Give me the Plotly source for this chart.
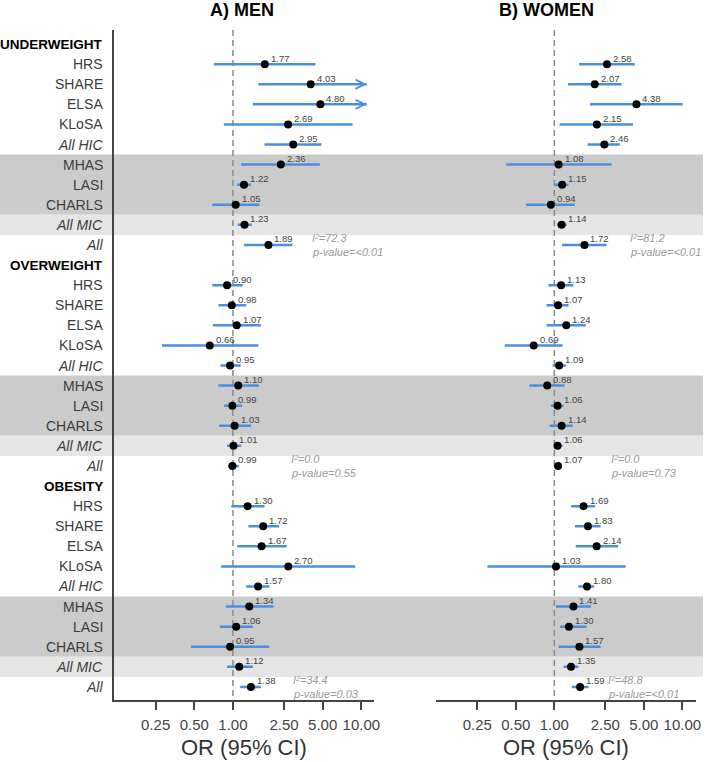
import math
import plotly.graph_objects as go

# ---------------- data ----------------
groups = ["UNDERWEIGHT", "OVERWEIGHT", "OBESITY"]
studies = ["HRS", "SHARE", "ELSA", "KLoSA", "All HIC", "MHAS", "LASI", "CHARLS", "All MIC", "All"]
italic_studies = ["All HIC", "All MIC", "All"]

# Men
men_or_uw = [1.77, 4.03, 4.80, 2.69, 2.95, 2.36, 1.22, 1.05, 1.23, 1.89]
men_lo_uw = [0.71, 1.58, 1.43, 0.85, 1.76, 1.16, 1.08, 0.69, 1.09, 1.22]
men_hi_uw = [4.39, 11.0, 11.0, 8.54, 4.89, 4.75, 1.38, 1.61, 1.40, 2.90]
men_or_ow = [0.90, 0.98, 1.07, 0.66, 0.95, 1.10, 0.99, 1.03, 1.01, 0.99]
men_lo_ow = [0.69, 0.77, 0.70, 0.28, 0.80, 0.77, 0.85, 0.78, 0.90, 0.92]
men_hi_ow = [1.19, 1.27, 1.65, 1.58, 1.15, 1.59, 1.18, 1.38, 1.16, 1.11]
men_or_ob = [1.30, 1.72, 1.67, 2.70, 1.57, 1.34, 1.06, 0.95, 1.12, 1.38]
men_lo_ob = [0.97, 1.32, 1.08, 0.81, 1.27, 0.88, 0.79, 0.47, 0.90, 1.14]
men_hi_ob = [1.76, 2.29, 2.62, 8.95, 1.92, 2.07, 1.43, 1.92, 1.43, 1.65]
men_arrow_uw = [False, True, True, False, False, False, False, False, False, False]

# Women
women_or_uw = [2.58, 2.07, 4.38, 2.15, 2.46, 1.08, 1.15, 0.94, 1.14, 1.72]
women_lo_uw = [1.56, 1.28, 1.90, 1.10, 1.82, 0.42, 1.00, 0.60, 1.05, 1.15]
women_hi_uw = [4.25, 3.35, 10.05, 4.12, 3.25, 2.80, 1.29, 1.44, 1.25, 2.56]
women_or_ow = [1.13, 1.07, 1.24, 0.69, 1.09, 0.88, 1.06, 1.14, 1.06, 1.07]
women_lo_ow = [0.90, 0.87, 0.87, 0.41, 0.97, 0.64, 0.94, 0.92, 0.99, 1.00]
women_hi_ow = [1.41, 1.29, 1.76, 1.16, 1.23, 1.20, 1.18, 1.39, 1.16, 1.13]
women_or_ob = [1.69, 1.83, 2.14, 1.03, 1.80, 1.41, 1.30, 1.57, 1.35, 1.59]
women_lo_ob = [1.35, 1.45, 1.47, 0.30, 1.54, 1.03, 1.11, 1.08, 1.18, 1.37]
women_hi_ob = [2.08, 2.30, 3.15, 3.61, 2.05, 1.93, 1.79, 2.30, 1.54, 1.85]

men_i2 = ["72.3", "0.0", "34.4"]
men_p = ["<0.01", "0.55", "0.03"]
women_i2 = ["81.2", "0.0", "48.8"]
women_p = ["<0.01", "0.73", "<0.01"]

tick_vals = [0.25, 0.5, 1.0, 2.5, 5.0, 10.0]
tick_text = ["0.25", "0.50", "1.00", "2.50", "5.00", "10.00"]

# ---------------- layout helpers ----------------
W, H = 709, 762
FONT = "Liberation Sans, Arial, sans-serif"
BLUE = "#4a8fdf"


def px(x):
    return x / W


def py(y):
    return 1 - y / H


ROWS_PER_GROUP = 11
Y_TOP, Y_BOT = -0.7, 32.65

men = {
    "or": [men_or_uw, men_or_ow, men_or_ob],
    "lo": [men_lo_uw, men_lo_ow, men_lo_ob],
    "hi": [men_hi_uw, men_hi_ow, men_hi_ob],
}
women = {
    "or": [women_or_uw, women_or_ow, women_or_ob],
    "lo": [women_lo_uw, women_lo_ow, women_lo_ob],
    "hi": [women_hi_uw, women_hi_ow, women_hi_ob],
}

fig = go.Figure()
annotations = []


def add_panel(d, xa, ya):
    xs, ys, pts_x, pts_y = [], [], [], []
    for g in range(3):
        for i in range(len(studies)):
            r = g * ROWS_PER_GROUP + 1 + i
            xs += [d["lo"][g][i], d["hi"][g][i], None]
            ys += [r, r, None]
            pts_x.append(d["or"][g][i])
            pts_y.append(r)
            annotations.append(dict(
                x=math.log10(d["or"][g][i]), y=r, xref=xa, yref=ya,
                text="%.2f" % d["or"][g][i], showarrow=False,
                xanchor="left", yanchor="middle", xshift=4, yshift=6,
                font=dict(family=FONT, size=9.5, color="#444444")))
    # reference line at OR = 1
    fig.add_trace(go.Scatter(x=[1, 1], y=[Y_TOP, Y_BOT], mode="lines",
                             line=dict(color="#8a8a8a", width=1.5, dash="6px,4px"),
                             xaxis=xa, yaxis=ya, hoverinfo="skip", showlegend=False))
    fig.add_trace(go.Scatter(x=xs, y=ys, mode="lines",
                             line=dict(color=BLUE, width=2.5),
                             xaxis=xa, yaxis=ya, hoverinfo="skip", showlegend=False))
    fig.add_trace(go.Scatter(x=pts_x, y=pts_y, mode="markers",
                             marker=dict(color="black", size=8),
                             xaxis=xa, yaxis=ya, showlegend=False))


add_panel(men, "x", "y")
add_panel(women, "x2", "y2")

# arrows for CIs beyond the axis (men, underweight)
for i, flag in enumerate(men_arrow_uw):
    if flag:
        r = 1 + i
        annotations.append(dict(
            x=math.log10(men_hi_uw[i]), y=r, ax=math.log10(men_hi_uw[i]) - 0.05, ay=r,
            xref="x", yref="y", axref="x", ayref="y", text="", showarrow=True,
            arrowhead=5, arrowsize=0.9, arrowwidth=2, arrowcolor=BLUE))

# row labels
for g, gname in enumerate(groups):
    base = g * ROWS_PER_GROUP
    annotations.append(dict(x=px(106), y=base, xref="paper", yref="y",
                            text="<b>%s</b>" % gname, showarrow=False, xanchor="right",
                            yanchor="middle", font=dict(family=FONT, size=13.5, color="black")))
    for i, s in enumerate(studies):
        txt = "<i>%s</i>" % s if s in italic_studies else s
        annotations.append(dict(x=px(106), y=base + 1 + i, xref="paper", yref="y",
                                text=txt, showarrow=False, xanchor="right", yanchor="middle",
                                font=dict(family=FONT, size=14, color="#3c3c3c")))

# heterogeneity stats
het_x_men = [313, 291, 293]
het_x_women = [633, 614, 611]
for g in range(3):
    r = g * ROWS_PER_GROUP + 10
    for xpos, i2, p in [(het_x_men[g], men_i2[g], men_p[g]),
                        (het_x_women[g], women_i2[g], women_p[g])]:
        annotations.append(dict(x=px(xpos), y=r - 0.35, xref="paper", yref="y",
                                text="<i>I²=%s</i>" % i2, showarrow=False,
                                xanchor="left", yanchor="middle",
                                font=dict(family=FONT, size=11, color="#9a9a9a")))
        annotations.append(dict(x=px(xpos), y=r + 0.35, xref="paper", yref="y",
                                text="<i>p-value=%s</i>" % p, showarrow=False,
                                xanchor="left", yanchor="middle",
                                font=dict(family=FONT, size=11, color="#9a9a9a")))

# titles
annotations.append(dict(x=px(244), y=py(10), xref="paper", yref="paper", text="<b>A) MEN</b>",
                        showarrow=False, xanchor="center", yanchor="middle",
                        font=dict(family=FONT, size=18, color="black")))
annotations.append(dict(x=px(551), y=py(10), xref="paper", yref="paper", text="<b>B) WOMEN</b>",
                        showarrow=False, xanchor="center", yanchor="middle",
                        font=dict(family=FONT, size=18, color="black")))
for xc in [246, 571]:
    annotations.append(dict(x=px(xc), y=py(747), xref="paper", yref="paper", text="OR (95% CI)",
                            showarrow=False, xanchor="center", yanchor="middle",
                            font=dict(family=FONT, size=22, color="#333333")))

# shaded bands for middle-income countries
shapes = []
for g in range(3):
    base = g * ROWS_PER_GROUP
    shapes.append(dict(type="rect", xref="paper", yref="y", x0=0, x1=1,
                       y0=base + 5.5, y1=base + 8.5, fillcolor="#cbcbcb",
                       line=dict(width=0), layer="below"))
    shapes.append(dict(type="rect", xref="paper", yref="y", x0=0, x1=1,
                       y0=base + 8.5, y1=base + 9.5, fillcolor="#e5e5e5",
                       line=dict(width=0), layer="below"))

xcommon = dict(type="log", tickvals=tick_vals, ticktext=tick_text, showgrid=False,
               zeroline=False, showline=True, linecolor="#444444", linewidth=2,
               ticks="outside", ticklen=8, tickwidth=2, tickcolor="#444444",
               ticklabelstandoff=2,
               tickfont=dict(family=FONT, size=15, color="#444444"))
ydom = [py(700), py(30)]

fig.update_layout(
    width=W, height=H, autosize=False,
    margin=dict(l=0, r=0, t=0, b=0),
    paper_bgcolor="white", plot_bgcolor="rgba(0,0,0,0)",
    xaxis=dict(domain=[px(115), px(377)], range=[math.log10(0.1186), math.log10(12.5)],
               anchor="y", **xcommon),
    xaxis2=dict(domain=[px(440), px(702)], range=[math.log10(0.1196), math.log10(12.8)],
                anchor="y2", **xcommon),
    yaxis=dict(domain=ydom, range=[Y_BOT, Y_TOP], anchor="x", showticklabels=False,
               showgrid=False, zeroline=False, showline=True, linecolor="#444444",
               linewidth=2, ticks=""),
    yaxis2=dict(domain=ydom, range=[Y_BOT, Y_TOP], anchor="x2", showticklabels=False,
                showgrid=False, zeroline=False, showline=False, ticks=""),
    annotations=annotations,
    shapes=shapes,
    showlegend=False,
)

fig.write_html("out.html")
